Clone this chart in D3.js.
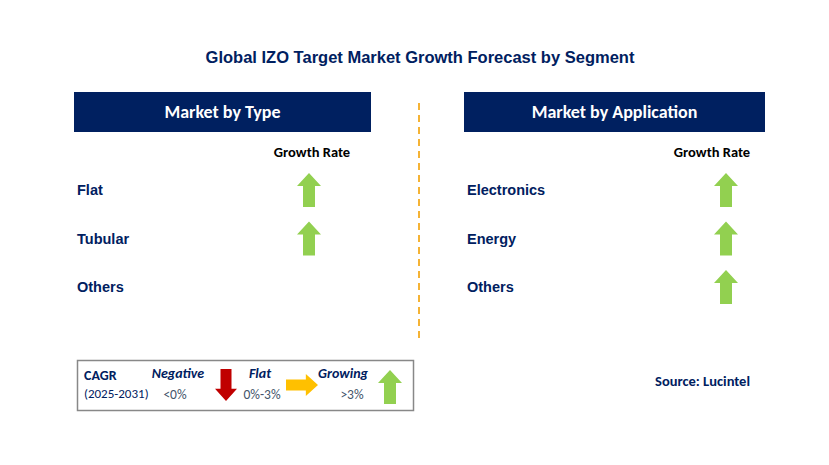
<!DOCTYPE html><html><head><meta charset="utf-8"><script src="https://cdn.jsdelivr.net/npm/d3@7"></script>
<style>body{margin:0;background:#fff}</style></head><body><script>
const title="Global IZO Target Market Growth Forecast by Segment";
const panels=["Market by Type","Market by Application"];
const typeCats=["Flat","Tubular","Others"];
const typeGrowth=["up","up",null];
const appCats=["Electronics","Energy","Others"];
const appGrowth=["up","up","up"];
const legendLabels=["Negative","Flat","Growing"];
const legendRanges=["<0%","0%-3%",">3%"];
const W=829,H=465,F="Calibri, Carlito, 'Open Sans', Arial, sans-serif",A="Arial, 'Liberation Sans', sans-serif",navy="#002060";
const svg=d3.select("body").append("svg").attr("width",W).attr("height",H);
svg.append("text").attr("x",420).attr("y",63).attr("text-anchor","middle").attr("font-family",A).attr("font-weight","bold").attr("font-size",16.5).attr("fill",navy).text(title);
const y=d3.scalePoint().domain([0,1,2]).range([190,287]);
function arrow(g,cx,cy,dir,color,w,h){
  const hw=w/2,sw=w*0.25,hh=h*0.38;let pts;
  if(dir==="up")pts=[[0,-h/2],[hw,-h/2+hh],[sw,-h/2+hh],[sw,h/2],[-sw,h/2],[-sw,-h/2+hh],[-hw,-h/2+hh]];
  else if(dir==="down")pts=[[0,h/2],[hw,h/2-hh],[sw,h/2-hh],[sw,-h/2],[-sw,-h/2],[-sw,h/2-hh],[-hw,h/2-hh]];
  else pts=[[h/2,0],[h/2-hh,-hw],[h/2-hh,-sw],[-h/2,-sw],[-h/2,sw],[h/2-hh,sw],[h/2-hh,hw]];
  g.append("path").attr("d",d3.line()(pts.map(p=>[cx+p[0],cy+p[1]]))+"Z").attr("fill",color);
}
const green="#92D050";
function panel(x0,x1,name,cats,growth,ax,gx){
  svg.append("rect").attr("x",x0).attr("y",92).attr("width",x1-x0).attr("height",40).attr("fill",navy);
  svg.append("text").attr("x",(x0+x1)/2).attr("y",118).attr("text-anchor","middle").attr("fill","#fff").attr("font-family",F).attr("font-weight","bold").attr("font-size",18).text(name);
  svg.append("text").attr("x",gx).attr("y",157).attr("text-anchor","middle").attr("font-family",F).attr("font-weight","bold").attr("font-size",14.5).attr("fill","#000").text("Growth Rate");
  cats.forEach((c,i)=>{
    svg.append("text").attr("x",x0+3).attr("y",y(i)+5).attr("font-family",A).attr("font-weight","bold").attr("font-size",14.5).attr("fill",navy).text(c);
    if(growth[i])arrow(svg,ax,y(i),growth[i],green,24,34);
  });
}
panel(74,371,panels[0],typeCats,typeGrowth,309,312);
panel(464,765,panels[1],appCats,appGrowth,726,712);
svg.append("line").attr("x1",419).attr("x2",419).attr("y1",103).attr("y2",338).attr("stroke","#F5B335").attr("stroke-width",2).attr("stroke-dasharray","7,5");
svg.append("rect").attr("x",77.5).attr("y",360.5).attr("width",336).attr("height",50).attr("fill","#fff").attr("stroke","#888").attr("stroke-width",1.5);
svg.append("text").attr("x",84).attr("y",380).attr("font-family",F).attr("font-weight","bold").attr("font-size",14).attr("fill",navy).text("CAGR");
svg.append("text").attr("x",84).attr("y",398).attr("font-family",F).attr("font-size",13).attr("fill",navy).text("(2025-2031)");
const lx=[178,260,343],rx=[175,262,352];
legendLabels.forEach((l,i)=>{
  svg.append("text").attr("x",lx[i]).attr("y",378).attr("text-anchor","middle").attr("font-family",F).attr("font-weight","bold").attr("font-style","italic").attr("font-size",14).attr("fill",navy).text(l);
  svg.append("text").attr("x",rx[i]).attr("y",399).attr("text-anchor","middle").attr("font-family",F).attr("font-size",13.5).attr("fill","#44546A").text(legendRanges[i]);
});
arrow(svg,226,385,"down","#C00000",22,32);
arrow(svg,302,385,"right","#FFC000",22,32);
arrow(svg,390,387,"up",green,24,34);
svg.append("text").attr("x",750).attr("y",386).attr("text-anchor","end").attr("font-family",F).attr("font-weight","bold").attr("font-size",14.5).attr("fill",navy).text("Source: Lucintel");
</script></body></html>
